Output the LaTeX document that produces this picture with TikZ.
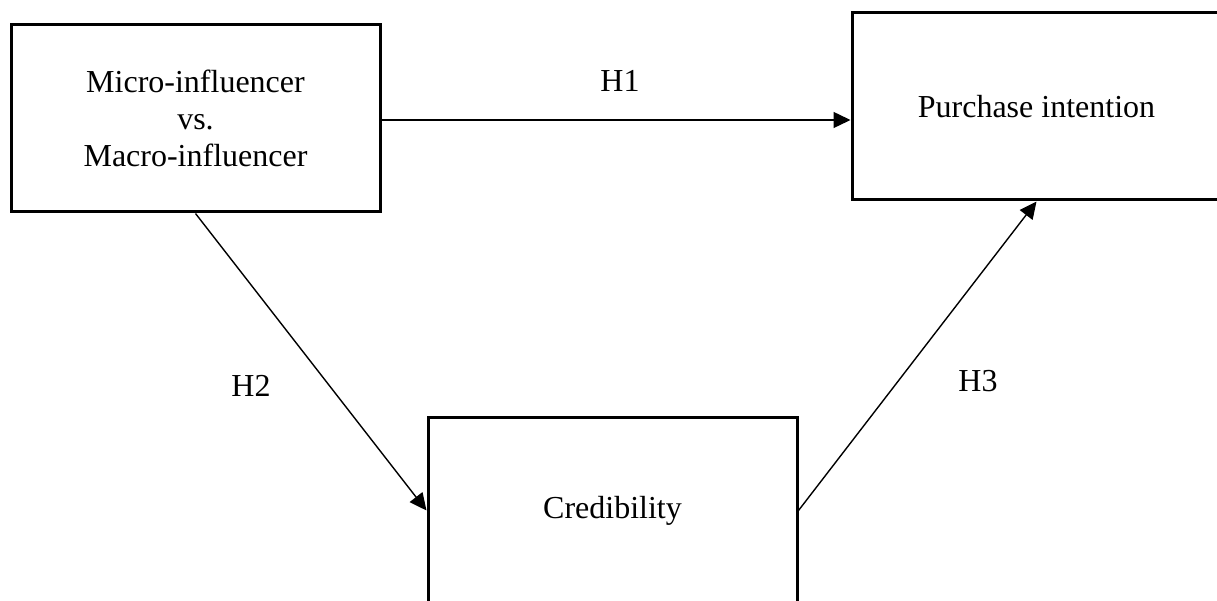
\documentclass[tikz,border=0pt]{standalone}
\usepackage{fontspec}
\setmainfont{Liberation Serif}
\usetikzlibrary{arrows.meta}
\begin{document}
\begin{tikzpicture}[x=1pt,y=-1pt,
  box/.style={draw,line width=3pt,rectangle,minimum width=369pt,minimum height=187pt,inner sep=0pt,align=center,font=\fontsize{32}{37}\selectfont},
  lbl/.style={font=\fontsize{32}{37}\selectfont,inner sep=0pt},
  conn/.style={line width=1.4pt,-{Triangle[length=17pt,width=16pt]}}]
\useasboundingbox (0,0) rectangle (1217,601);
\clip (0,0) rectangle (1217,601);
\node[box] (b1) at (195.5,118.5) {Micro-influencer\\vs.\\Macro-influencer};
\node[box] (b2) at (1036.5,106.5) {Purchase intention};
\node[box] (b3) at (612.5,510.5) {Credibility};
\draw[conn] (b1.east |- 0,120) -- (b2.west |- 0,120);
\draw[conn] (b1.south) -- (b3.west);
\draw[conn] (b3.east) -- (b2.south);
\node[lbl] (h1) at (620,81) {H1};
\node[lbl] (h2) at (251,386) {H2};
\node[lbl] (h3) at (978,381) {H3};
\end{tikzpicture}
\end{document}
